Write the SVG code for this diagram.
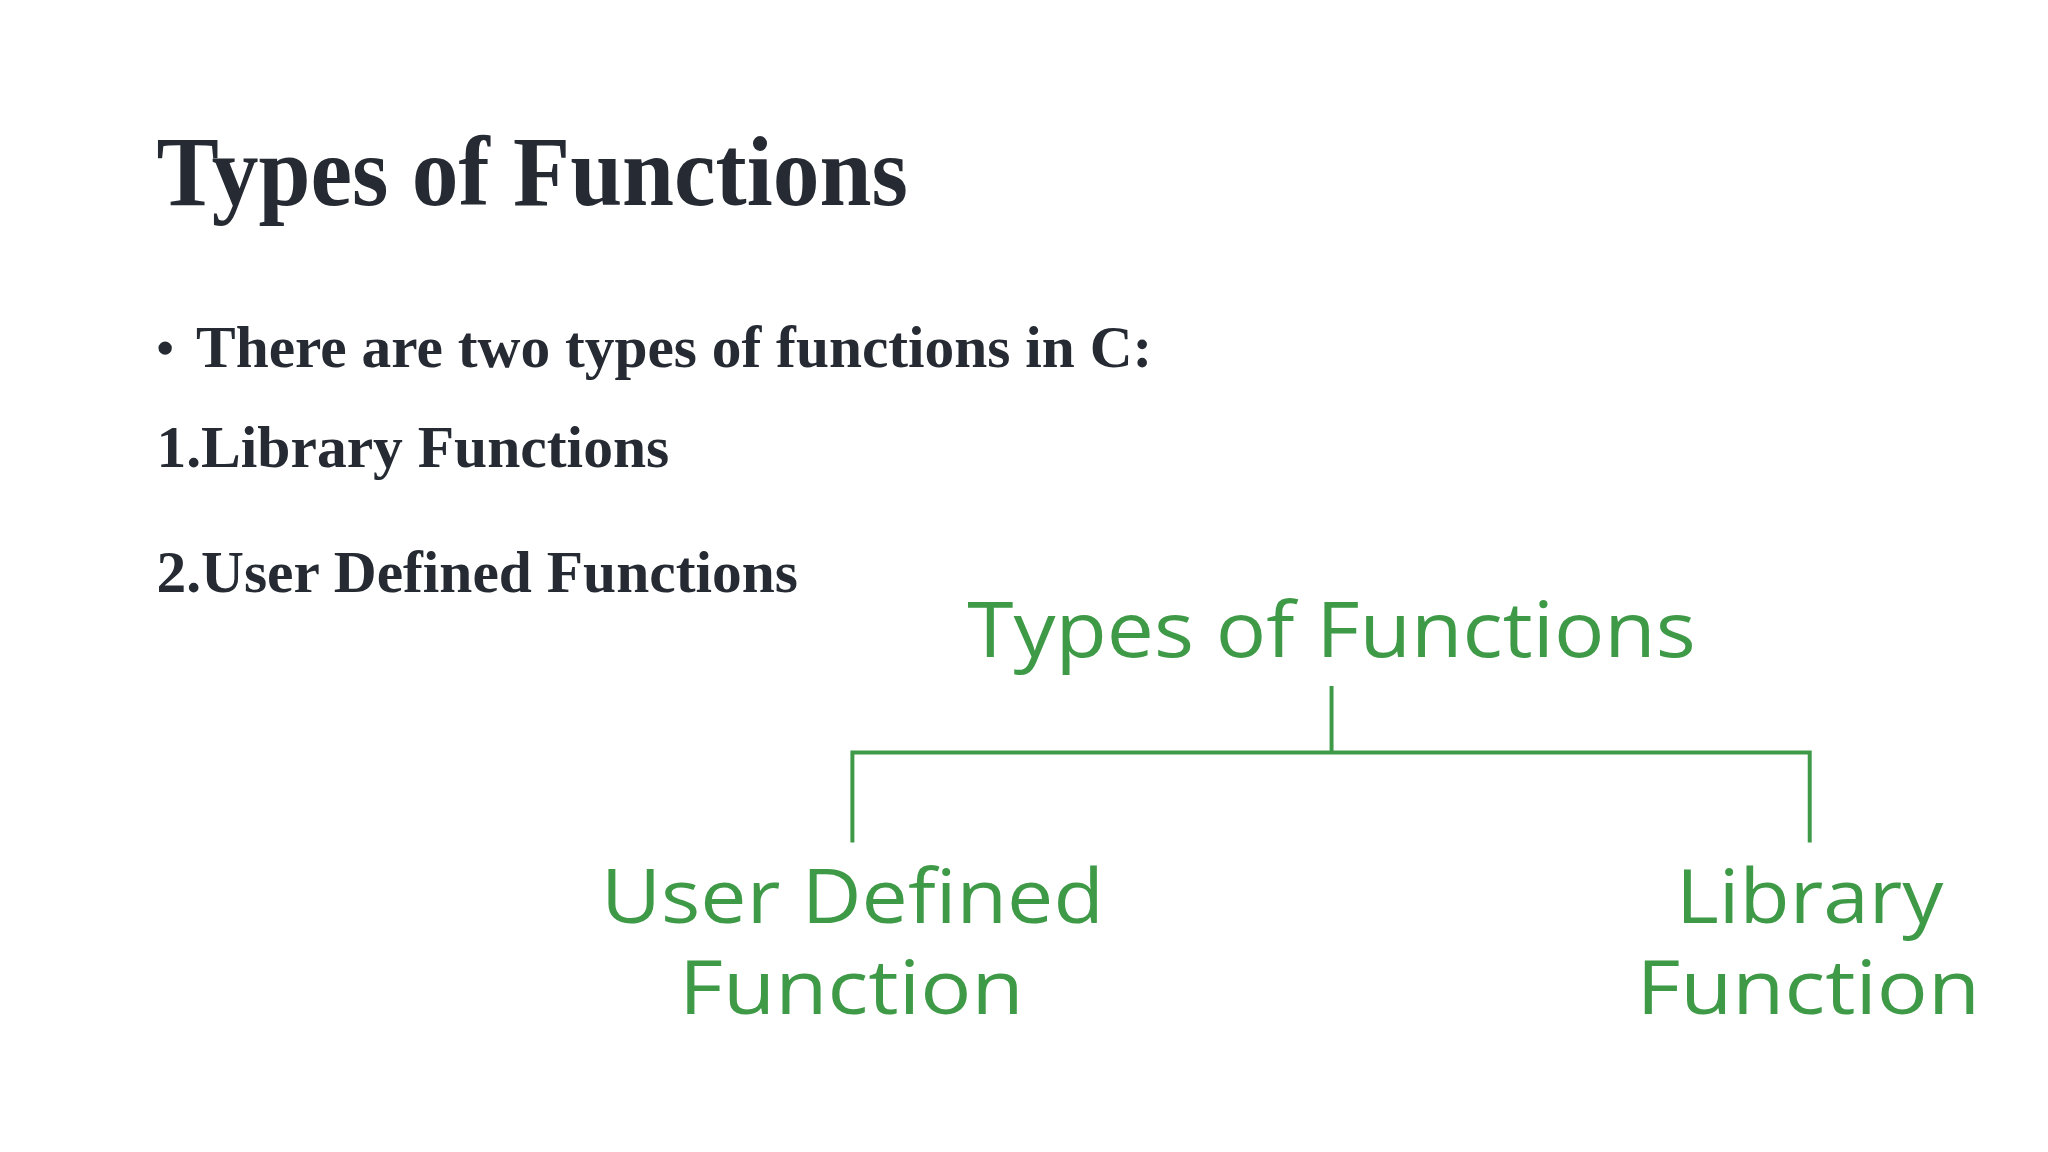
<svg xmlns="http://www.w3.org/2000/svg" width="2048" height="1152" viewBox="0 0 2048 1152">
<style>
.s{font-family:"Liberation Serif",serif;font-weight:bold;fill:#262b33}
.g{font-family:"Open Sans","Noto Sans",sans-serif;fill:#3f9a48}
.c{stroke:#3f9a48;stroke-width:4;fill:none}
</style>
<rect width="2048" height="1152" fill="#ffffff"/>
<g transform="scale(0.99)">
<g id="title"><text class="s" x="158" y="207" font-size="100" textLength="759" lengthAdjust="spacingAndGlyphs">Types of Functions</text></g>
<g id="bullets">
<text class="s" x="158" y="368" font-size="50">•</text>
<text class="s" x="198" y="371" font-size="60" textLength="966" lengthAdjust="spacingAndGlyphs">There are two types of functions in C:</text>
<text class="s" x="158" y="472" font-size="60" textLength="518" lengthAdjust="spacingAndGlyphs">1.Library Functions</text>
<text class="s" x="158" y="598" font-size="60" textLength="648" lengthAdjust="spacingAndGlyphs">2.User Defined Functions</text>
</g>
<g id="root"><text class="g" x="977" y="664" font-size="78" textLength="736" lengthAdjust="spacingAndGlyphs">Types of Functions</text></g>
<g id="user"><text class="g" x="607" y="932" font-size="76" textLength="508" lengthAdjust="spacingAndGlyphs">User Defined</text>
<text class="g" x="686" y="1024" font-size="76" textLength="348" lengthAdjust="spacingAndGlyphs">Function</text></g>
<g id="library"><text class="g" x="1693" y="932" font-size="76" textLength="270" lengthAdjust="spacingAndGlyphs">Library</text>
<text class="g" x="1653" y="1024" font-size="76" textLength="347" lengthAdjust="spacingAndGlyphs">Function</text></g>
<g id="connectors">
<path class="c" d="M1345 693 V760 M861 851 V760 H1828 V851"/>
</g>
</g>
</svg>
